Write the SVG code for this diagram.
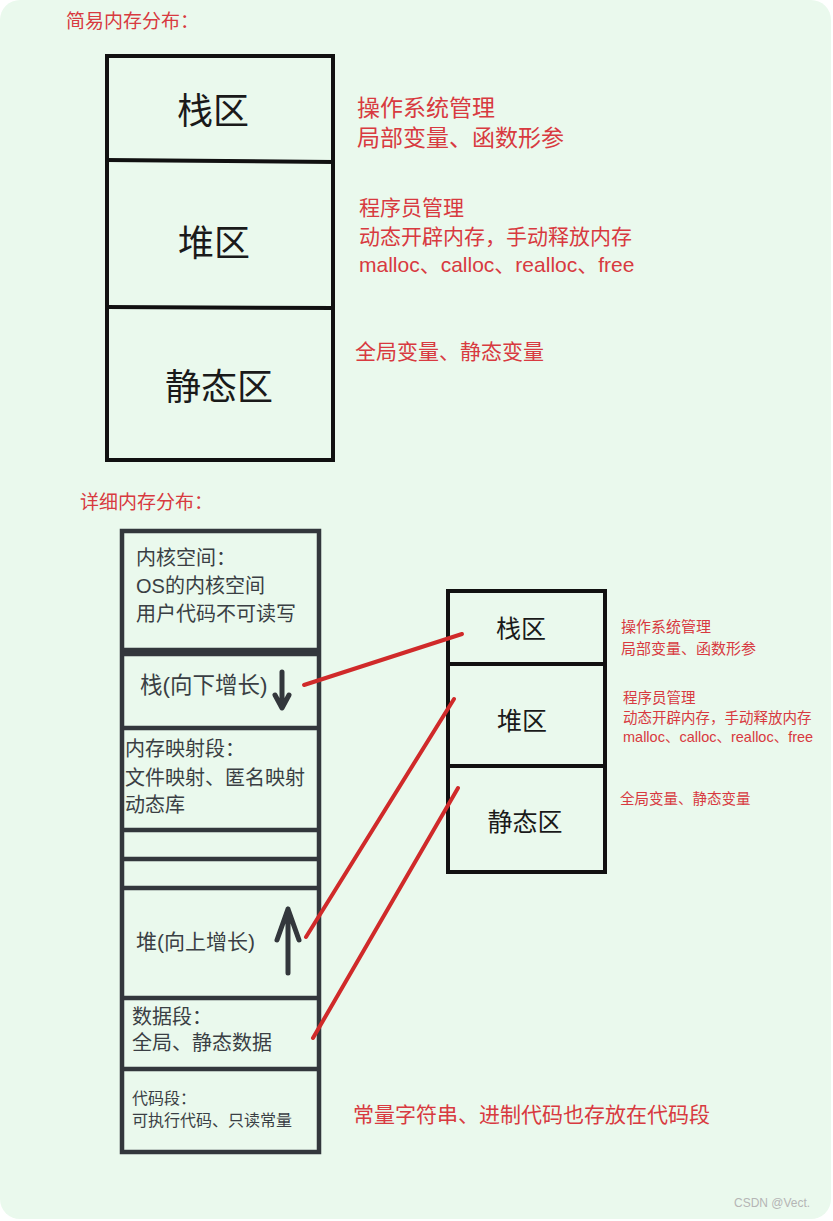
<svg xmlns="http://www.w3.org/2000/svg" width="833" height="1221" viewBox="0 0 833 1221">
<style>
text{font-family:"Liberation Sans","Noto Sans CJK SC",sans-serif}
.red{fill:#d83a40}
.dark{fill:#3a3f44}
.blk{fill:#1a1a1a}
.bx{fill:none;stroke:#111;stroke-width:4}
.bx2{fill:none;stroke:#33373c;stroke-width:4.5}
.link{stroke:#d02a2a;stroke-width:4;stroke-linecap:round;fill:none}
.arr{stroke:#33373c;stroke-width:5;stroke-linecap:round;stroke-linejoin:round;fill:none}
</style>
<rect width="833" height="1221" fill="#ffffff"/>
<rect x="0" y="0" width="831" height="1219" rx="20" fill="#eaf9ed"/>
<text class="red" x="66" y="28" font-size="19">简易内存分布：</text>
<g id="simple">
<rect class="bx" x="107" y="56" width="226" height="404"/>
<line class="bx" x1="106" y1="160" x2="334" y2="162"/>
<line class="bx" x1="106" y1="307" x2="334" y2="308"/>
<text class="blk" x="213" y="124" font-size="36" text-anchor="middle">栈区</text>
<text class="blk" x="214" y="256" font-size="36" text-anchor="middle">堆区</text>
<text class="blk" x="219" y="400" font-size="36" text-anchor="middle">静态区</text>
</g>
<g id="simple-notes">
<text class="red" x="357" y="116" font-size="23">操作系统管理</text>
<text class="red" x="357" y="146" font-size="23">局部变量、函数形参</text>
<text class="red" x="359" y="215" font-size="21">程序员管理</text>
<text class="red" x="359" y="244" font-size="21">动态开辟内存，手动释放内存</text>
<text class="red" x="359" y="272" font-size="21">malloc、calloc、realloc、free</text>
<text class="red" x="355" y="359" font-size="21">全局变量、静态变量</text>
</g>
<text class="red" x="80" y="509" font-size="19">详细内存分布：</text>
<g id="detail">
<rect class="bx2" x="122" y="531" width="197" height="621"/>
<line class="bx2" x1="122" y1="650" x2="319" y2="650"/>
<line class="bx2" x1="122" y1="654" x2="319" y2="654"/>
<line class="bx2" x1="122" y1="728" x2="319" y2="728"/>
<line class="bx2" x1="122" y1="830" x2="319" y2="830"/>
<line class="bx2" x1="122" y1="859" x2="319" y2="859"/>
<line class="bx2" x1="122" y1="888" x2="319" y2="888"/>
<line class="bx2" x1="122" y1="998" x2="319" y2="998"/>
<line class="bx2" x1="122" y1="1069" x2="319" y2="1069"/>
</g>
<g id="kernel">
<text class="dark" x="136" y="565" font-size="20">内核空间：</text>
<text class="dark" x="136" y="593" font-size="20">OS的内核空间</text>
<text class="dark" x="136" y="621" font-size="20">用户代码不可读写</text>
</g>
<g id="stack">
<text class="dark" x="140" y="693" font-size="22.5">栈(向下增长)</text>
<path class="arr" d="M282 672 V707 M275 695 L282 708 L289 695"/>
</g>
<g id="mmap">
<text class="dark" x="125" y="756" font-size="20">内存映射段：</text>
<text class="dark" x="125" y="785" font-size="20">文件映射、匿名映射</text>
<text class="dark" x="125" y="812" font-size="20">动态库</text>
</g>
<g id="heap">
<text class="dark" x="136" y="949" font-size="21">堆(向上增长)</text>
<path class="arr" d="M288 973 V909 M277 940 L288 909 L299 940"/>
</g>
<g id="data">
<text class="dark" x="132" y="1024" font-size="20">数据段：</text>
<text class="dark" x="132" y="1050" font-size="20">全局、静态数据</text>
</g>
<g id="code">
<text class="dark" x="132" y="1104" font-size="16">代码段：</text>
<text class="dark" x="132" y="1126" font-size="16">可执行代码、只读常量</text>
</g>
<g id="right">
<rect class="bx" x="448" y="591" width="157" height="281"/>
<line class="bx" x1="447" y1="664" x2="606" y2="664"/>
<line class="bx" x1="447" y1="766" x2="606" y2="766"/>
<text class="blk" x="521" y="638" font-size="25" text-anchor="middle">栈区</text>
<text class="blk" x="522" y="730" font-size="25" text-anchor="middle">堆区</text>
<text class="blk" x="525" y="831" font-size="25" text-anchor="middle">静态区</text>
</g>
<g id="right-notes">
<text class="red" x="621" y="632" font-size="15">操作系统管理</text>
<text class="red" x="621" y="654" font-size="15">局部变量、函数形参</text>
<text class="red" x="623" y="703" font-size="14.5">程序员管理</text>
<text class="red" x="623" y="723" font-size="14.5">动态开辟内存，手动释放内存</text>
<text class="red" x="623" y="742" font-size="14.5">malloc、calloc、realloc、free</text>
<text class="red" x="620" y="804" font-size="14.5">全局变量、静态变量</text>
</g>
<g id="connectors">
<line class="link" x1="304" y1="685" x2="462" y2="634"/>
<line class="link" x1="306" y1="937" x2="454" y2="699"/>
<line class="link" x1="313" y1="1038" x2="458" y2="788"/>
</g>
<text class="red" x="353" y="1122" font-size="21">常量字符串、进制代码也存放在代码段</text>
<text x="734" y="1207" font-size="12" fill="#b5b5b5">CSDN @Vect.</text>
</svg>
